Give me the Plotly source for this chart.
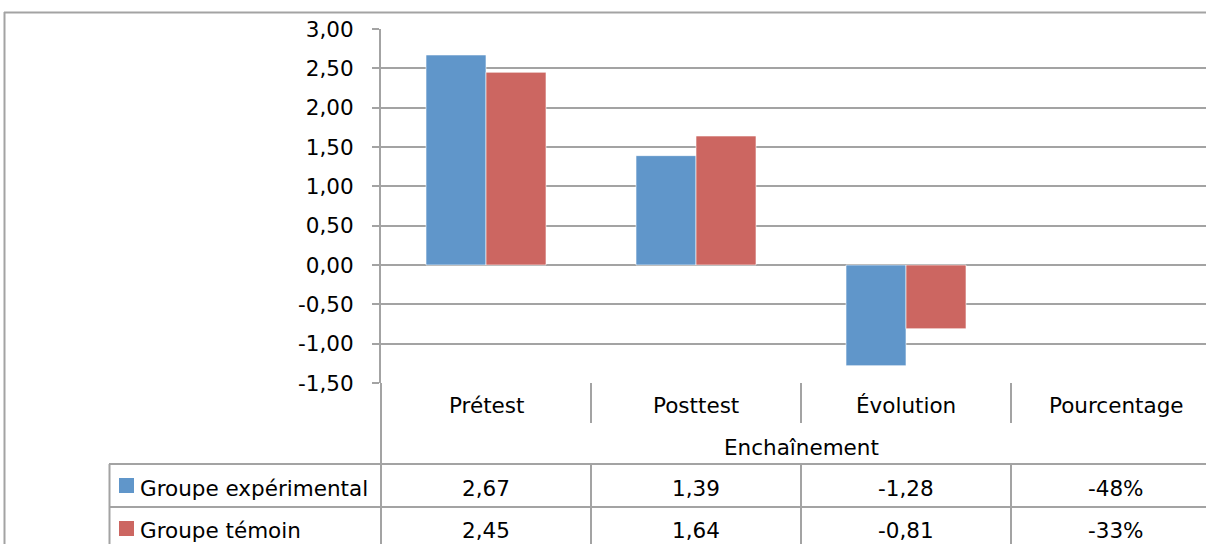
import plotly.graph_objects as go

# ---- data ----
categories = ["Prétest", "Posttest", "Évolution", "Pourcentage"]
series_names = ["Groupe expérimental", "Groupe témoin"]
exp_values = [2.67, 1.39, -1.28]
tem_values = [2.45, 1.64, -0.81]
exp_pct = -48
tem_pct = -33
y_ticks = [3.0, 2.5, 2.0, 1.5, 1.0, 0.5, 0.0, -0.5, -1.0, -1.5]
axis_title = "Enchaînement"
colors = ["#6096ca", "#cc6661"]

def fr(v):
    return f"{v:.2f}".replace(".", ",")

y_tick_text = [fr(v) for v in y_ticks]
table_rows = [
    [fr(v) for v in exp_values] + [f"{exp_pct}%"],
    [fr(v) for v in tem_values] + [f"{tem_pct}%"],
]

# ---- layout geometry (pixels) ----
W, H = 1206, 544
L, R = 381, 1206
T, B = 29, 383
CAT_W = 210
FONT = "DejaVu Sans"
FS = 21.5
GRID = "#a3a3a3"

def px(x):
    return (x - L) / (R - L)

def py(y):
    return (B - y) / (B - T)

x_idx = list(range(len(categories)))

fig = go.Figure()
for name, vals, col in zip(series_names, [exp_values, tem_values], colors):
    fig.add_trace(go.Bar(
        x=x_idx[:len(vals)], y=vals, name=name,
        marker=dict(color=col, line=dict(color="rgba(255,255,255,0.6)", width=1)),
    ))

shapes = []
line = dict(color=GRID, width=2)
# outer chart frame
shapes.append(dict(type="line", xref="paper", yref="paper", x0=px(4), x1=px(1210), y0=py(12.5), y1=py(12.5), line=line))
shapes.append(dict(type="line", xref="paper", yref="paper", x0=px(4.5), x1=px(4.5), y0=py(12), y1=py(560), line=line))
# axis continuing into table
shapes.append(dict(type="line", xref="paper", yref="paper", x0=0, x1=0, y0=0, y1=py(560), line=line))
# category separators in header row and in table rows
for k in range(1, len(categories)):
    xs = k - 0.5
    shapes.append(dict(type="line", xref="x", yref="paper", x0=xs, x1=xs, y0=0, y1=py(423), line=line))
    shapes.append(dict(type="line", xref="x", yref="paper", x0=xs, x1=xs, y0=py(464), y1=py(560), line=line))
# table horizontal lines
for yy in [464, 507]:
    shapes.append(dict(type="line", xref="paper", yref="paper", x0=px(109), x1=px(1210), y0=py(yy), y1=py(yy), line=line))
shapes.append(dict(type="line", xref="paper", yref="paper", x0=px(109.5), x1=px(109.5), y0=py(464), y1=py(560), line=line))
# legend keys
for i, col in enumerate(colors):
    yc = 485.5 + i * 43
    shapes.append(dict(type="rect", xref="paper", yref="paper", x0=px(119), x1=px(134),
                       y0=py(yc - 7.5), y1=py(yc + 7.5), fillcolor=col, line=dict(width=0)))

annotations = []
font = dict(family=FONT, size=FS, color="#000000")
for i, c in enumerate(categories):
    annotations.append(dict(x=i, y=py(406), xref="x", yref="paper", text=c, showarrow=False,
                            font=font, xanchor="center", yanchor="middle"))
annotations.append(dict(x=(len(categories) - 1) / 2, y=py(447), xref="x", yref="paper", text=axis_title,
                        showarrow=False, font=font, xanchor="center", yanchor="middle"))
for r, (name, row) in enumerate(zip(series_names, table_rows)):
    yc = py(488.5 + r * 42)
    annotations.append(dict(x=px(138), y=yc, xref="paper", yref="paper", text=name, showarrow=False,
                            font=font, xanchor="left", yanchor="middle"))
    for i, t in enumerate(row):
        annotations.append(dict(x=i, y=yc, xref="x", yref="paper", text=t, showarrow=False,
                                font=font, xanchor="center", yanchor="middle"))

fig.update_layout(
    width=W, height=H,
    margin=dict(l=L, r=W - R, t=T, b=H - B, pad=0),
    paper_bgcolor="white", plot_bgcolor="white",
    barmode="group", bargap=(CAT_W - 120) / CAT_W, bargroupgap=0,
    showlegend=False,
    font=dict(family=FONT, size=FS, color="#000000"),
    shapes=shapes, annotations=annotations,
    xaxis=dict(range=[-0.5, -0.5 + (R - L) / CAT_W], showticklabels=False, showgrid=False,
               zeroline=False, showline=False, ticks="", fixedrange=True),
    yaxis=dict(range=[-1.5, 3.0], tickvals=y_ticks, ticktext=y_tick_text,
               showgrid=True, gridcolor=GRID, gridwidth=2, zeroline=False,
               showline=True, linecolor=GRID, linewidth=2,
               ticks="outside", ticklen=7, tickwidth=2, tickcolor=GRID,
               ticklabelstandoff=14, tickfont=dict(family=FONT, size=FS, color="#000000"),
               fixedrange=True),
)

fig.write_html(
    "out.html",
    config={"displayModeBar": False},
    post_script="document.body.style.margin='0';document.body.style.overflow='hidden';",
)
